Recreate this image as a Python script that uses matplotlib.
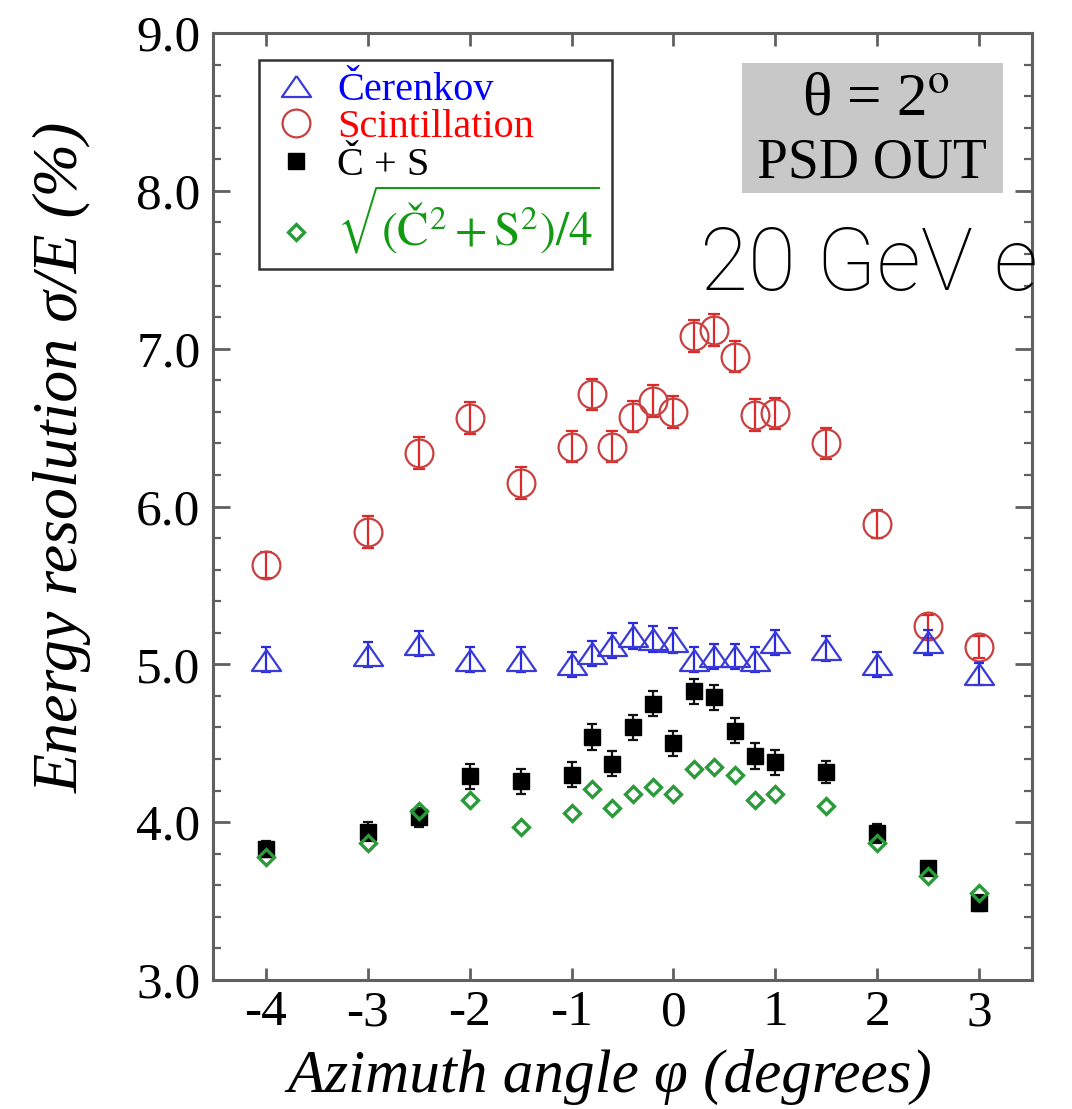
import matplotlib
matplotlib.use('Agg')
import matplotlib.pyplot as plt
from matplotlib.patches import Rectangle
from matplotlib.ticker import MultipleLocator, FixedLocator

plt.rcParams['axes.unicode_minus'] = False
plt.rcParams['mathtext.fontset'] = 'stix'
plt.rcParams['font.family'] = ['Liberation Serif', 'DejaVu Serif']

# ---------------- data ----------------
phi = [-4, -3, -2.5, -2, -1.5, -1, -0.8, -0.6, -0.4, -0.2, 0,
       0.2, 0.4, 0.6, 0.8, 1, 1.5, 2, 2.5, 3]
cerenkov = [5.03, 5.06, 5.13, 5.03, 5.03, 5.00, 5.07, 5.12, 5.18, 5.16, 5.15,
            5.03, 5.05, 5.05, 5.03, 5.14, 5.10, 5.00, 5.14, 4.94]
cerenkov_err = [0.08, 0.08, 0.08, 0.08, 0.08, 0.08, 0.08, 0.08, 0.08, 0.08, 0.08,
                0.08, 0.08, 0.08, 0.08, 0.08, 0.08, 0.08, 0.08, 0.07]
scint = [5.63, 5.84, 6.34, 6.56, 6.15, 6.38, 6.71, 6.38, 6.57, 6.67, 6.60,
         7.08, 7.12, 6.95, 6.58, 6.59, 6.40, 5.89, 5.24, 5.11]
scint_err = [0.08, 0.10, 0.10, 0.10, 0.10, 0.10, 0.10, 0.10, 0.10, 0.10, 0.10,
             0.10, 0.10, 0.10, 0.10, 0.10, 0.10, 0.09, 0.07, 0.07]
c_plus_s = [3.83, 3.94, 4.03, 4.29, 4.26, 4.30, 4.54, 4.37, 4.60, 4.75, 4.50,
            4.83, 4.79, 4.58, 4.42, 4.38, 4.32, 3.93, 3.71, 3.49]
c_plus_s_err = [0.05, 0.06, 0.06, 0.08, 0.08, 0.08, 0.08, 0.08, 0.08, 0.08, 0.08,
                0.08, 0.08, 0.08, 0.08, 0.08, 0.07, 0.06, 0.04, 0.05]
quad = [3.78, 3.87, 4.07, 4.14, 3.97, 4.06, 4.21, 4.09, 4.18, 4.22, 4.18,
        4.34, 4.35, 4.30, 4.14, 4.18, 4.10, 3.87, 3.66, 3.55]

xticks = [-4, -3, -2, -1, 0, 1, 2, 3]
xtick_labels = ['-4', '-3', '-2', '-1', '0', '1', '2', '3']
yticks = [3, 4, 5, 6, 7, 8, 9]
ytick_labels = ['3.0', '4.0', '5.0', '6.0', '7.0', '8.0', '9.0']

labels = ['Čerenkov', 'Scintillation', 'Č + S',
          r'$\sqrt{(\mathrm{Č}^2 + \mathrm{S}^2)/4}$']
label_colors = ['#0000ff', '#ff0000', '#000000', '#139a13']

# ---------------- figure ----------------
fig = plt.figure(figsize=(10.72, 11.09), dpi=100)
ax = fig.add_axes([213/1072, 1 - 980/1109, (1032-213)/1072, (980-33)/1109])

tri = [(0, 0.72), (-1, -0.72), (1, -0.72), (0, 0.72)]

# error bars
ax.errorbar(phi, scint, yerr=scint_err, fmt='none', ecolor='#e02828',
            elinewidth=1.6, capsize=4.5, capthick=1.6, zorder=2)
ax.errorbar(phi, cerenkov, yerr=cerenkov_err, fmt='none', ecolor='#2a2ae0',
            elinewidth=1.6, capsize=3.8, capthick=1.6, zorder=3)
ax.errorbar(phi, c_plus_s, yerr=c_plus_s_err, fmt='none', ecolor='#111111',
            elinewidth=1.6, capsize=3.8, capthick=1.6, zorder=4)

h_cer, = ax.plot(phi, cerenkov, linestyle='none', marker=tri, ms=21,
                 mfc='none', mec='#3a3ad8', mew=1.6, zorder=3.5)
h_sci, = ax.plot(phi, scint, linestyle='none', marker='o', ms=20,
                 mfc='none', mec='#c84040', mew=1.6, zorder=2.5)
h_cs, = ax.plot(phi, c_plus_s, linestyle='none', marker='s', ms=11.5,
                mfc='#000000', mec='#000000', mew=1, zorder=4.5)
h_q, = ax.plot(phi, quad, linestyle='none', marker='D', ms=8.5,
               mfc='none', mec='#2a9a3a', mew=2.4, zorder=5)

ax.set_xlim(-4.52, 3.52)
ax.set_ylim(3.0, 9.0)
ax.xaxis.set_major_locator(FixedLocator(xticks))
ax.set_xticklabels(xtick_labels)
ax.yaxis.set_major_locator(FixedLocator(yticks))
ax.set_yticklabels(ytick_labels)
ax.yaxis.set_minor_locator(MultipleLocator(0.2))

spine_c = '#606060'
for s in ax.spines.values():
    s.set_linewidth(2.2)
    s.set_color(spine_c)
ax.tick_params(axis='both', which='both', direction='in', colors=spine_c,
               labelcolor='black')
ax.tick_params(axis='y', which='major', length=12, width=2, left=True, right=True,
               labelsize=37, pad=9)
ax.tick_params(axis='y', which='minor', length=6, width=1.6, left=True, right=True)
ax.tick_params(axis='x', which='major', length=9, width=2, top=True, bottom=True,
               labelsize=37, pad=7)

ax.set_xlabel('Azimuth angle φ (degrees)', fontsize=44, fontstyle='italic')
ax.xaxis.label.set_verticalalignment('center')
ax.xaxis.set_label_coords(0.485, -0.1025)
ax.set_ylabel('Energy resolution σ/E (%)', fontsize=46, fontstyle='italic')
ax.yaxis.label.set_verticalalignment('center')
ax.yaxis.set_label_coords(-0.183, 0.552)

# legend
leg = ax.legend([h_cer, h_sci, h_cs, h_q], labels, loc='upper left',
                bbox_to_anchor=(0.056, 0.9715), borderaxespad=0,
                fontsize=29, frameon=True, fancybox=False, framealpha=1,
                edgecolor='#333333', borderpad=0.3, handlelength=1.25,
                handletextpad=0.4, labelspacing=0.0, numpoints=1)
leg.get_frame().set_linewidth(1.8)
for t, c in zip(leg.get_texts(), label_colors):
    t.set_color(c)
leg.get_texts()[3].set_fontsize(34)

# grey info box
ax.add_patch(Rectangle((0.646, 0.831), 0.319, 0.137, transform=ax.transAxes,
                       facecolor='#c8c8c8', edgecolor='none', zorder=6))
ax.text(0.8095, 0.930, 'θ = 2$^{\\mathrm{o}}$', transform=ax.transAxes,
        ha='center', va='center', fontsize=44, zorder=7)
ax.text(0.805, 0.8617, 'PSD OUT', transform=ax.transAxes,
        ha='center', va='center', fontsize=40, zorder=7)

# overlay label
ax.text(0.5946, 0.7286, '20 GeV e', transform=ax.transAxes, ha='left',
        va='baseline', fontsize=63, family=['Roboto', 'DejaVu Sans'],
        fontweight='light', color='black', zorder=10, clip_on=False)

fig.savefig('out.png', dpi=100)
